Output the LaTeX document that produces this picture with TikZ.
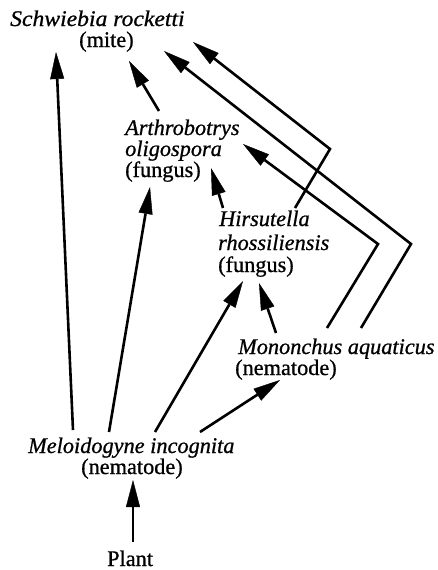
\documentclass[tikz,border=0pt]{standalone}
\usepackage{fontspec}
\setmainfont{Liberation Serif}[FakeBold=0.8]
\usetikzlibrary{arrows.meta}
\begin{document}
\begin{tikzpicture}[x=1pt,y=-1pt,
  lbl/.style={anchor=base west,inner sep=0pt,font=\fontsize{22.3}{22}\selectfont},
  sp/.style={lbl,font=\fontsize{22.3}{22}\selectfont\itshape},
  arr/.style={line width=2.6pt,line join=miter,line cap=butt,
    -{Triangle[length=27pt,width=14pt,line width=0.4pt]}}]
\useasboundingbox (0,0) rectangle (437,570);
% labels
\node[sp]  (sch)   at (10,26)  {\scalebox{1.06}[1]{Schwiebia rocketti}};
\node[lbl] (schT)  at (79,47)  {(mite)};
\node[sp]  (art)   at (125,135) {Arthrobotrys};
\node[sp]  (artB)  at (125,156) {oligospora};
\node[lbl] (artT)  at (125,177) {(fungus)};
\node[sp]  (hir)   at (219,226) {Hirsutella};
\node[sp]  (hirB)  at (218,250) {rhossiliensis};
\node[lbl] (hirT)  at (218,272) {(fungus)};
\node[sp]  (mon)   at (238,354) {Mononchus aquaticus};
\node[lbl] (monT)  at (235,375) {(nematode)};
\node[sp]  (mel)   at (28,453)  {Meloidogyne incognita};
\node[lbl] (melT)  at (81,474)  {(nematode)};
\node[lbl] (plant) at (107,566) {Plant};
% bend points
\coordinate (bendH)  at (330,149);
\coordinate (bendMi) at (378,244);
\coordinate (bendMo) at (411,244);
% connectors
\draw[arr] ([shift={(45,-23)}]mel.base west) -- ([shift={(46,26)}]sch.base west);
\draw[arr] ([shift={(81,-21)}]mel.base west) -- ([shift={(25,10)}]artT.base west);
\draw[arr] ([shift={(127,-21)}]mel.base west) -- ([shift={(25,9)}]hirT.base west);
\draw[arr] ([shift={(172,-21)}]mel.base west) -- ([shift={(45,5)}]monT.base west);
\draw[arr] ([shift={(26,-24)}]plant.base west) -- ([shift={(52,6)}]melT.base west);
\draw[arr] ([shift={(38,-21)}]mon.base west) -- ([shift={(41,11)}]hirT.base west);
\draw[arr] ([shift={(4,-18)}]hir.base west) -- ([shift={(86,-9)}]artT.base west);
\draw[arr] ([shift={(34,-24)}]art.base west) -- ([shift={(50,14)}]schT.base west);
\draw[arr] ([shift={(76,-18)}]hir.base west) -- (bendH) -- ([shift={(183,16)}]sch.base west);
\draw[arr] ([shift={(123,-26)}]mon.base west) -- (bendMo) -- ([shift={(154,25)}]sch.base west);
\draw[arr] ([shift={(89,-26)}]mon.base west) -- (bendMi) -- ([shift={(118,9)}]art.base west);
\end{tikzpicture}
\end{document}
